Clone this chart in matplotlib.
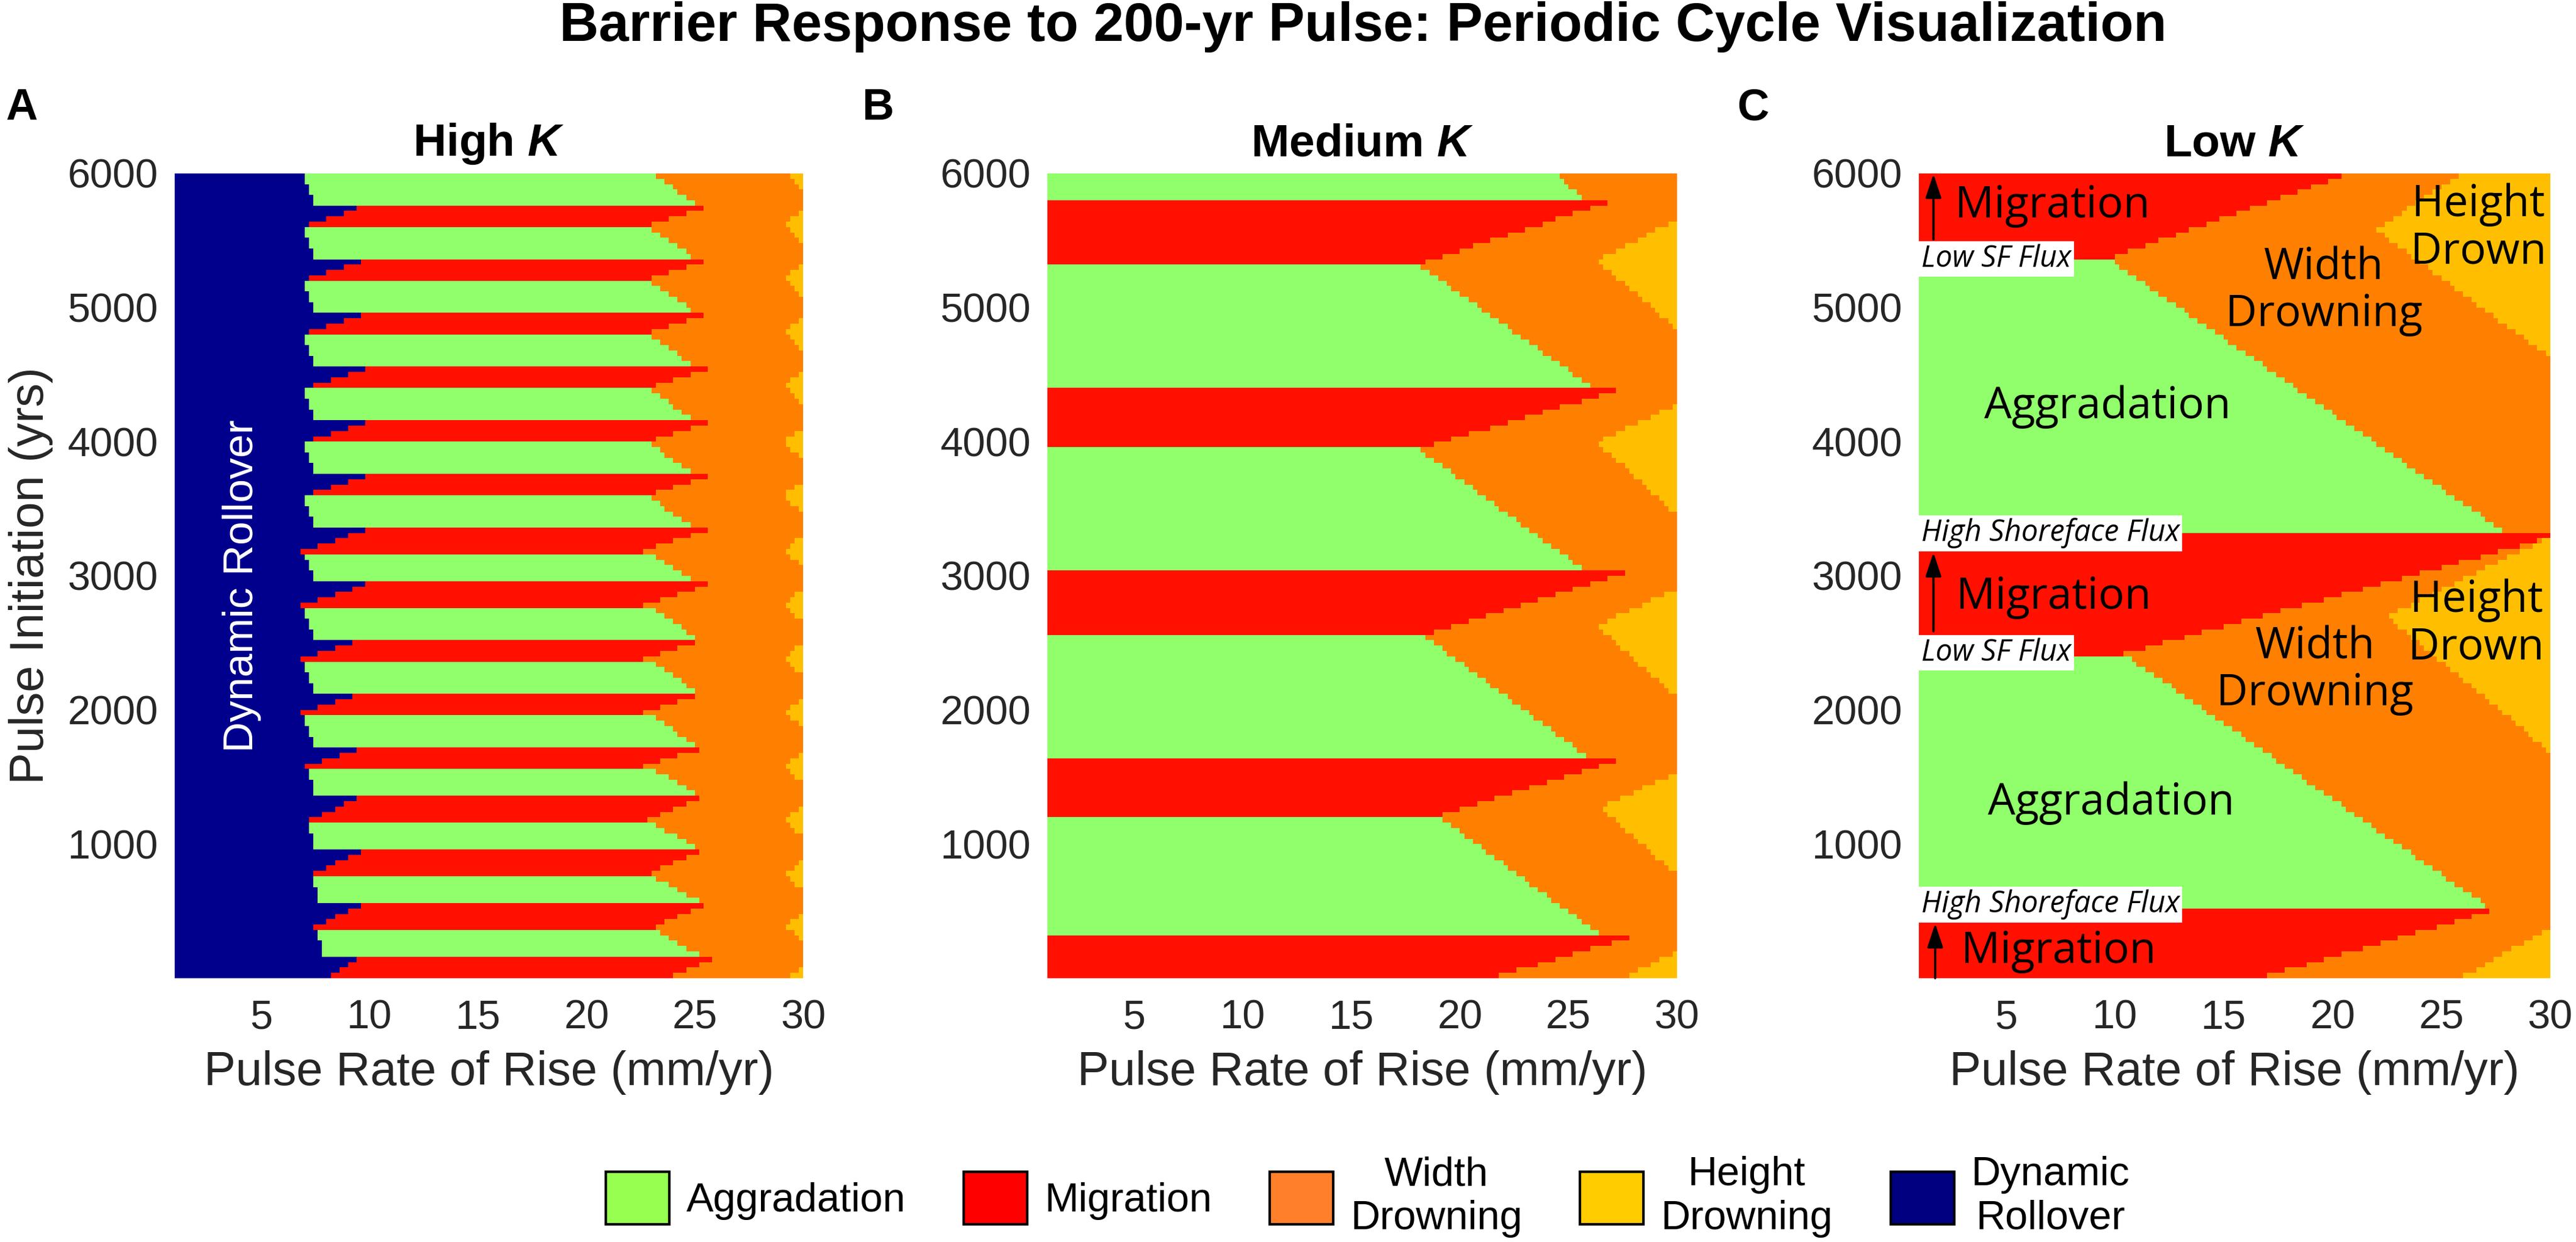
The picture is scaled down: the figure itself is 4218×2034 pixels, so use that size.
import numpy as np
import matplotlib
matplotlib.use("Agg")
import matplotlib.pyplot as plt
from matplotlib.colors import ListedColormap, BoundaryNorm
from matplotlib.patches import Patch

plt.rcParams['font.family'] = ['Liberation Sans', 'DejaVu Sans']
plt.rcParams['mathtext.fontset'] = 'custom'
plt.rcParams['mathtext.rm'] = 'Liberation Sans'
plt.rcParams['mathtext.it'] = 'Liberation Sans:italic'
plt.rcParams['mathtext.bf'] = 'Liberation Sans:bold'
plt.rcParams['mathtext.bfit'] = 'Liberation Sans:italic:bold'

GREY = '#262626'
ANNOT_FONT = ['Open Sans', 'DejaVu Sans']

# regime codes
AGG, MIG, WID, HGT, ROL = 0, 1, 2, 3, 4
regime_labels = ['Aggradation', 'Migration', 'Width\nDrowning', 'Height\nDrowning', 'Dynamic\nRollover']
map_colors = ['#91ff6b', '#ff1000', '#ff8000', '#ffbf00', '#00008c']
legend_colors = ['#96ff4f', '#ff0000', '#ff7f2a', '#ffcc00', '#000080']

# model grid (pulse rate of rise in mm/yr, pulse initiation in yrs)
X_MIN, X_MAX, Y_MAX = 1.0, 30.0, 6000.0
rate_edges = np.arange(X_MIN, X_MAX + 0.01, 0.2)
init_edges = np.arange(0, Y_MAX + 1, 40)
rate_c = 0.5 * (rate_edges[1:] + rate_edges[:-1])
init_c = 0.5 * (init_edges[1:] + init_edges[:-1])

# ---- High K: migration bands (y range) and their right edges (x)
red_top_A = [5763, 5358, 4958, 4548, 4150, 3749, 3342, 2941, 2536, 2135, 1728, 1371, 966, 565, 165]
red_bot_A = [5599, 5199, 4798, 4389, 3983, 3587, 3180, 2777, 2376, 1976, 1575, 1166, 766, 365, -35]
red_xtop_A = [25.8, 25.7, 25.7, 25.7, 25.7, 25.7, 25.7, 25.7, 25.7, 25.7, 25.7, 25.6, 25.6, 25.8, 26.1]
red_xbot_A = [22.5, 22.5, 22.5, 22.5, 22.5, 22.5, 22.5, 22.5, 22.5, 22.5, 22.5, 22.6, 22.7, 22.9, 23.1]
# aggradation band sitting above each migration band: right edge at its top / bottom
green_xtop_A = [23.1, 22.9, 22.9, 22.9, 22.9, 22.9, 22.9, 22.9, 22.9, 22.9, 22.9, 22.9, 22.9, 23.0, 23.1]
green_xbot_A = [25.1, 25.1, 25.1, 25.1, 25.1, 25.1, 25.1, 25.1, 25.1, 25.1, 25.1, 25.1, 25.2, 25.3, 25.3]
# dynamic rollover edge (x) inside migration band (top/bottom) and aggradation band (top/bottom)
roll_rtop_A = [9.9, 9.9, 9.9, 9.9, 9.9, 9.9, 9.9, 9.9, 9.9, 9.9, 9.9, 9.9, 9.9, 9.9, 9.7]
roll_rbot_A = [6.8, 6.8, 6.8, 6.8, 6.8, 6.8, 6.8, 6.8, 6.8, 6.8, 6.8, 7.0, 7.2, 7.2, 7.6]
roll_gtop_A = [6.9, 6.9, 6.9, 6.9, 6.9, 6.9, 6.9, 6.9, 6.9, 6.9, 6.9, 7.1, 7.1, 7.3, 7.5]
roll_gbot_A = [7.5, 7.5, 7.5, 7.5, 7.5, 7.5, 7.5, 7.5, 7.5, 7.5, 7.5, 7.5, 7.5, 7.7, 7.9]
# height drowning notches: top (at x=30), tip (x, y), bottom (at x=30)
yel_hi_A = [6120, 5722, 5326, 4921, 4511, 4110, 3712, 3305, 2905, 2500, 2091, 1685, 1286, 889, 484, 83]
yel_bx_A = [29.1, 29.1, 29.1, 29.1, 29.1, 29.1, 29.1, 29.1, 29.1, 29.1, 29.1, 29.1, 29.1, 29.2, 29.2, 29.2]
yel_by_A = [6010, 5627, 5226, 4825, 4420, 4000, 3600, 3195, 2790, 2390, 1993, 1587, 1188, 774, 384, -5]
yel_lo_A = [5886, 5478, 5077, 4677, 4270, 3860, 3460, 3055, 2650, 2250, 1855, 1448, 1050, 644, 278, -120]

# ---- Medium K
red_top_B = [5795, 4393, 3023, 1650, 319]
red_bot_B = [5322, 3947, 2560, 1207, -130]
red_xtop_B = [27.0, 27.5, 27.7, 27.9, 28.2]
red_xbot_B = [18.1, 18.1, 18.3, 19.0, 18.6]
green_xtop_B = [24.4, 18.1, 18.1, 18.3, 19.0]
green_xbot_B = [25.8, 26.2, 25.9, 25.9, 26.5]
yel_hi_B = [5654, 4275, 2905, 1535, 204]
yel_bx_B = [26.3, 26.3, 26.3, 26.5, 27.4]
yel_by_B = [5350, 3997, 2627, 1271, -10]
yel_lo_B = [4844, 3455, 2095, 770, -500]

# ---- Low K
red_top_C = [6000, 3305, 524]
red_bot_C = [5363, 2418, -290]
red_xtop_C = [20.8, 30.5, 27.8]
red_xbot_C = [9.7, 10.4, 10.4]
green_xtop_C = [20.8, 9.7, 10.4]   # first entry unused (no aggradation above top band)
green_xbot_C = [20.8, 28.1, 27.2]
yel_hi_C = [6441, 3290, 374]
yel_bx_C = [22.0, 22.5, 25.8]
yel_by_C = [5580, 2700, -5]
yel_lo_C = [4625, 1685, -700]


def build_map(red_top, red_bot, red_xtop, red_xbot, green_xtop, green_xbot,
              yel_hi, yel_bx, yel_by, yel_lo):
    X, Y = np.meshgrid(rate_c, init_c)
    Z = np.full(X.shape, WID)
    for i in range(len(red_top)):
        band = (Y >= red_bot[i]) & (Y < red_top[i])
        f = (Y - red_bot[i]) / (red_top[i] - red_bot[i])
        edge = red_xbot[i] + f * (red_xtop[i] - red_xbot[i])
        Z[band & (X <= edge)] = MIG
        g_top = Y_MAX if i == 0 else red_bot[i - 1]
        if g_top > red_top[i]:
            band = (Y >= red_top[i]) & (Y < g_top)
            f = (Y - red_top[i]) / (g_top - red_top[i])
            edge = green_xbot[i] + f * (green_xtop[i] - green_xbot[i])
            Z[band & (X <= edge)] = AGG
    for hi, bx, by, lo in zip(yel_hi, yel_bx, yel_by, yel_lo):
        up = (Y >= by) & (Y < hi) & (X >= bx + (X_MAX - bx) * (Y - by) / (hi - by))
        dn = (Y >= lo) & (Y < by) & (X >= bx + (X_MAX - bx) * (by - Y) / (by - lo))
        Z[(Z == WID) & (up | dn)] = HGT
    return Z


def add_rollover(Z, red_top, red_bot, rtop, rbot, gtop, gbot):
    X, Y = np.meshgrid(rate_c, init_c)
    for i in range(len(red_top)):
        band = (Y >= red_bot[i]) & (Y < red_top[i])
        f = (Y - red_bot[i]) / (red_top[i] - red_bot[i])
        Z[band & (X <= rbot[i] + f * (rtop[i] - rbot[i]))] = ROL
        g_top = Y_MAX if i == 0 else red_bot[i - 1]
        band = (Y >= red_top[i]) & (Y < g_top)
        f = (Y - red_top[i]) / (g_top - red_top[i])
        Z[band & (X <= gbot[i] + f * (gtop[i] - gbot[i]))] = ROL
    return Z


Z_A = build_map(red_top_A, red_bot_A, red_xtop_A, red_xbot_A, green_xtop_A, green_xbot_A,
                yel_hi_A, yel_bx_A, yel_by_A, yel_lo_A)
Z_A = add_rollover(Z_A, red_top_A, red_bot_A, roll_rtop_A, roll_rbot_A, roll_gtop_A, roll_gbot_A)
Z_B = build_map(red_top_B, red_bot_B, red_xtop_B, red_xbot_B, green_xtop_B, green_xbot_B,
                yel_hi_B, yel_bx_B, yel_by_B, yel_lo_B)
Z_C = build_map(red_top_C, red_bot_C, red_xtop_C, red_xbot_C, green_xtop_C, green_xbot_C,
                yel_hi_C, yel_bx_C, yel_by_C, yel_lo_C)

cmap = ListedColormap(map_colors)
norm = BoundaryNorm(np.arange(-0.5, 5.5, 1), cmap.N)

fig = plt.figure(figsize=(21.09, 10.17), dpi=200)
ax_pos = [[0.0678, 0.2124, 0.2440, 0.6480],
          [0.4066, 0.2124, 0.2444, 0.6480],
          [0.7449, 0.2124, 0.2451, 0.6480]]
titles = ['High $\\mathbfit{K}$', 'Medium $\\mathbfit{K}$', 'Low $\\mathbfit{K}$']
letters = ['A', 'B', 'C']
letter_x = [0.0021, 0.3345, 0.6745]

axes = []
for k, Z in enumerate([Z_A, Z_B, Z_C]):
    ax = fig.add_axes(ax_pos[k])
    ax.pcolormesh(rate_edges, init_edges, Z, cmap=cmap, norm=norm, shading='flat')
    ax.set_xlim(X_MIN, X_MAX)
    ax.set_ylim(0, Y_MAX)
    ax.set_xticks([5, 10, 15, 20, 25, 30])
    ax.set_yticks([1000, 2000, 3000, 4000, 5000, 6000])
    ax.tick_params(axis='both', length=0, labelsize=24, labelcolor=GREY)
    ax.tick_params(axis='x', pad=12.6)
    ax.tick_params(axis='y', pad=9.7)
    for s in ax.spines.values():
        s.set_visible(False)
    ax.set_xlabel('Pulse Rate of Rise (mm/yr)', fontsize=28, color=GREY, labelpad=7.6)
    ax.set_title(titles[k], fontsize=27, fontweight='bold', pad=10.4)
    fig.text(letter_x[k], 0.9036, letters[k], fontsize=26, fontweight='bold', va='baseline', ha='left')
    axes.append(ax)

axes[0].set_ylabel('Pulse Initiation (yrs)', fontsize=28, color=GREY, labelpad=8.6)
axes[0].text(4.1, 2923, 'Dynamic Rollover', rotation=90, color='white', fontsize=25,
             ha='center', va='center')

# annotations on the Low K panel
axc = axes[2]
big = dict(fontsize=25.6, family=ANNOT_FONT, color='black', ha='center', va='baseline')
axc.text(7.13, 5670, 'Migration', **big)
axc.text(7.2, 2755, 'Migration', **big)
axc.text(7.4, 112, 'Migration', **big)
axc.text(9.66, 4176, 'Aggradation', **big)
axc.text(9.83, 1219, 'Aggradation', **big)
mid = dict(fontsize=25.6, family=ANNOT_FONT, color='black', ha='center', va='center', linespacing=1.1)
axc.text(19.6, 5120, 'Width\nDrowning', **mid)
axc.text(26.7, 5590, 'Height\nDrown', **mid)
axc.text(19.2, 2295, 'Width\nDrowning', **mid)
axc.text(26.6, 2640, 'Height\nDrown', **mid)

box = dict(facecolor='white', edgecolor='none', pad=1.5)
small = dict(fontsize=17.5, family=ANNOT_FONT, style='italic', color='black',
             ha='left', va='center', bbox=box)
axc.text(1.11, 5361, 'Low SF Flux', **small)
axc.text(1.11, 2427, 'Low SF Flux', **small)
axc.text(1.11, 3317, 'High Shoreface Flux', **small)
axc.text(1.11, 549, 'High Shoreface Flux', **small)

arrow = dict(arrowstyle='-|>,head_length=0.6,head_width=0.2', color='black', lw=1.3,
             mutation_scale=20, shrinkA=0, shrinkB=0)
axc.annotate('', xy=(1.67, 5995), xytext=(1.67, 5508), arrowprops=arrow)
axc.annotate('', xy=(1.67, 3173), xytext=(1.67, 2586), arrowprops=arrow)
axc.annotate('', xy=(1.75, 407), xytext=(1.75, 0), arrowprops=arrow)

fig.text(0.5292, 0.967, 'Barrier Response to 200-yr Pulse: Periodic Cycle Visualization',
         fontsize=32, fontweight='bold', ha='center', va='baseline')

handles = [Patch(facecolor=c, edgecolor='black', linewidth=1.5) for c in legend_colors]
leg = fig.legend(handles, regime_labels, loc='center', bbox_to_anchor=(0.531, 0.0364),
                 bbox_transform=fig.transFigure, ncol=5, frameon=False, fontsize=24,
                 handlelength=1.56, handleheight=1.59, handletextpad=0.42,
                 columnspacing=1.42, borderpad=0, borderaxespad=0)
for t in leg.get_texts():
    t.set_multialignment('center')

fig.savefig('out.png', dpi=200)
